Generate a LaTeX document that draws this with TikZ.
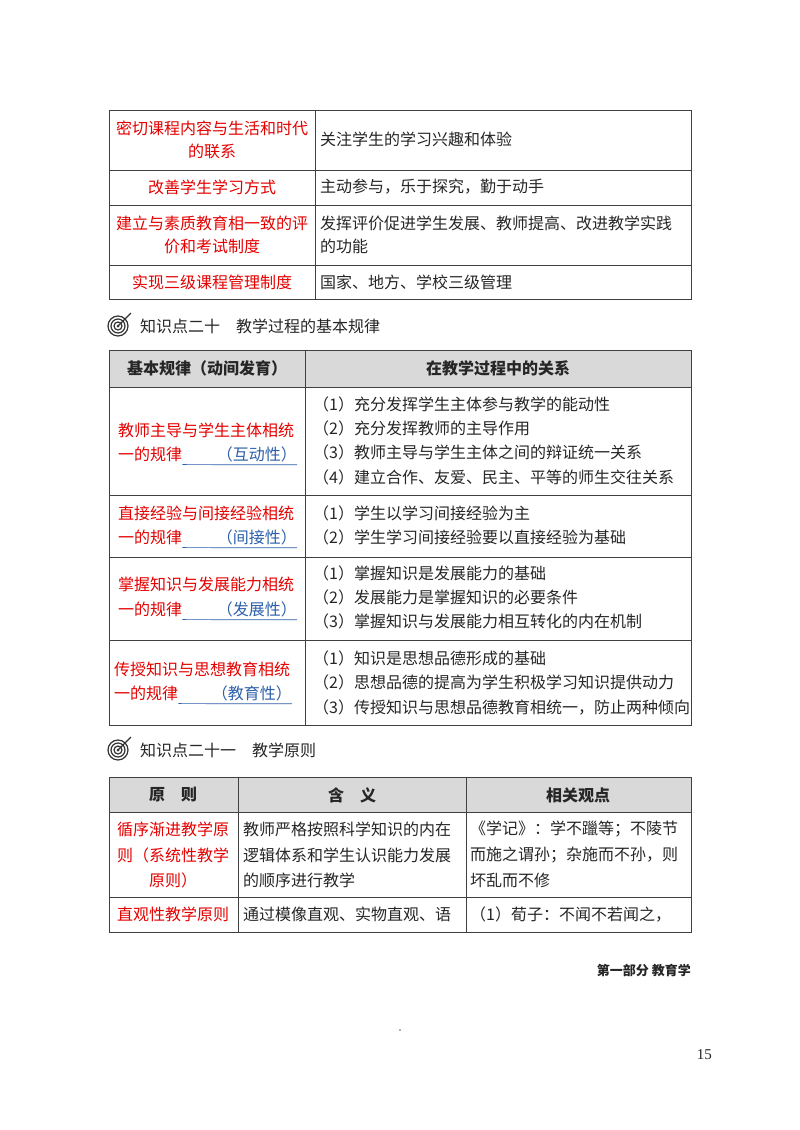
\documentclass[tikz,border=0pt]{standalone}
\usepackage{fontspec}
\usetikzlibrary{calc}
\setmainfont{Noto Sans CJK SC}
\newfontfamily\numfont{Liberation Serif}
\definecolor{ulblue}{RGB}{45,95,170}
\begin{document}
\begin{tikzpicture}[x=1pt,y=-1pt,
  tx/.style={anchor=west,inner sep=0pt,font=\fontsize{16}{18}\selectfont,text=black!85},
  rd/.style={tx,text=red!90!black},
  bl/.style={tx,text=ulblue},
  ctr/.style={tx,anchor=center},
  hd/.style={ctr,font=\fontsize{16}{18}\selectfont\bfseries},
  grid/.style={draw=black!75,line width=0.9pt},
  ul/.style={draw=ulblue,line width=0.7pt}]
\useasboundingbox (0,0) rectangle (800,1130);
\fill[white] (0,0) rectangle (800,1130);
% ---- table 1
\draw[grid] (109,110) rectangle (691,299);
\foreach \y in {170,205,265} \draw[grid] (109,\y) -- (691,\y);
\draw[grid] (315,110) -- (315,299);
\node[rd,anchor=center] (a1) at (212,128) {密切课程内容与生活和时代};
\node[rd,anchor=center] (a2) at (212,151) {的联系};
\node[tx] (b1) at (320,139) {关注学生的学习兴趣和体验};
\node[rd,anchor=center] (a3) at (212,187) {改善学生学习方式};
\node[tx] (b2) at (320,187) {主动参与，乐于探究，勤于动手};
\node[rd,anchor=center] (a4) at (212,223) {建立与素质教育相一致的评};
\node[rd,anchor=center] (a5) at (212,246) {价和考试制度};
\node[tx] (b3) at (320,223) {发挥评价促进学生发展、教师提高、改进教学实践};
\node[tx] (b4) at (320,246) {的功能};
\node[rd,anchor=center] (a6) at (212,282) {实现三级课程管理制度};
\node[tx] (b5) at (320,282) {国家、地方、学校三级管理};
% ---- heading 1
\foreach \r in {10,7,4} \draw[black!80,line width=1.2pt] (118,326) circle (\r);
\fill[black!80] (118,326) circle (1.5);
\draw[black!80,line width=1.2pt] (118,326) -- (131,313);
\node[tx] (h1) at (140,326) {知识点二十\quad 教学过程的基本规律};
% ---- table 2
\fill[black!15] (109,350) rectangle (691,387);
\draw[grid] (109,350) rectangle (691,725);
\foreach \y in {387,495,557,640} \draw[grid] (109,\y) -- (691,\y);
\draw[grid] (305,350) -- (305,725);
\node[hd] (t2a) at (207,368) {基本规律（动间发育）};
\node[hd] (t2b) at (498,368) {在教学过程中的关系};
% row 1
\node[rd] (r1a) at (118,430) {教师主导与学生主体相统};
\node[rd] (r1b) at (118,454) {一的规律};
\node[bl,anchor=east] (r1c) at (297,454) {（互动性）};
\draw[ul] ($(r1b.south east)+(0,3)$) -- ($(r1c.south east)+(0,3)$);
\node[tx] at (313,404) {（1）充分发挥学生主体参与教学的能动性};
\node[tx] at (313,428) {（2）充分发挥教师的主导作用};
\node[tx] at (313,452) {（3）教师主导与学生主体之间的辩证统一关系};
\node[tx] at (313,477) {（4）建立合作、友爱、民主、平等的师生交往关系};
% row 2
\node[rd] (r2a) at (118,513) {直接经验与间接经验相统};
\node[rd] (r2b) at (118,537) {一的规律};
\node[bl,anchor=east] (r2c) at (297,537) {（间接性）};
\draw[ul] ($(r2b.south east)+(0,3)$) -- ($(r2c.south east)+(0,3)$);
\node[tx] at (313,513) {（1）学生以学习间接经验为主};
\node[tx] at (313,537) {（2）学生学习间接经验要以直接经验为基础};
% row 3
\node[rd] (r3a) at (118,584) {掌握知识与发展能力相统};
\node[rd] (r3b) at (118,609) {一的规律};
\node[bl,anchor=east] (r3c) at (297,609) {（发展性）};
\draw[ul] ($(r3b.south east)+(0,3)$) -- ($(r3c.south east)+(0,3)$);
\node[tx] at (313,573) {（1）掌握知识是发展能力的基础};
\node[tx] at (313,597) {（2）发展能力是掌握知识的必要条件};
\node[tx] at (313,621) {（3）掌握知识与发展能力相互转化的内在机制};
% row 4
\node[rd] (r4a) at (114,669) {传授知识与思想教育相统};
\node[rd] (r4b) at (114,693) {一的规律};
\node[bl,anchor=east] (r4c) at (292,693) {（教育性）};
\draw[ul] ($(r4b.south east)+(0,3)$) -- ($(r4c.south east)+(0,3)$);
\node[tx] at (313,658) {（1）知识是思想品德形成的基础};
\node[tx] at (313,682) {（2）思想品德的提高为学生积极学习知识提供动力};
\node[tx] at (313,707) {（3）传授知识与思想品德教育相统一，防止两种倾向};
% ---- heading 2
\foreach \r in {10,7,4} \draw[black!80,line width=1.2pt] (118,750) circle (\r);
\fill[black!80] (118,750) circle (1.5);
\draw[black!80,line width=1.2pt] (118,750) -- (131,737);
\node[tx] (h2) at (140,750) {知识点二十一\quad 教学原则};
% ---- table 3
\fill[black!15] (109,777) rectangle (691,812);
\draw[grid] (109,777) rectangle (691,932);
\foreach \y in {812,897} \draw[grid] (109,\y) -- (691,\y);
\draw[grid] (238,777) -- (238,932);
\draw[grid] (466,777) -- (466,932);
\node[hd] (t3a) at (173,795) {原\quad 则};
\node[hd] (t3b) at (352,795) {含\quad 义};
\node[hd] (t3c) at (578,795) {相关观点};
\node[rd] at (117,829) {循序渐进教学原};
\node[rd] at (117,855) {则（系统性教学};
\node[rd] at (149,880) {原则）};
\node[tx] at (243,829) {教师严格按照科学知识的内在};
\node[tx] at (243,855) {逻辑体系和学生认识能力发展};
\node[tx] at (243,880) {的顺序进行教学};
\node[tx] at (470,829) {《学记》：学不躐等；不陵节};
\node[tx] at (470,855) {而施之谓孙；杂施而不孙，则};
\node[tx] at (470,880) {坏乱而不修};
\node[rd] (z1) at (117,914) {直观性教学原则};
\node[tx] at (243,914) {通过模像直观、实物直观、语};
\node[tx] at (470,914) {（1）荀子：不闻不若闻之，};
% ---- footer
\node[tx,anchor=east,font=\fontsize{13}{15}\selectfont\bfseries] (ft) at (691,970) {第一部分\ 教育学};
\fill[black!60] (400,1030) circle (0.8);
\node[tx,anchor=east,font=\fontsize{15}{18}\numfont] (pg) at (712,1055) {15};
\end{tikzpicture}
\end{document}
